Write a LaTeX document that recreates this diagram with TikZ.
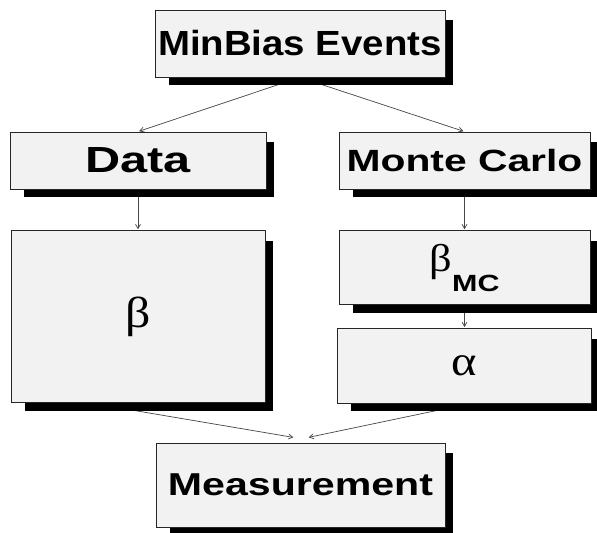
\documentclass[tikz,border=0pt]{standalone}
\usepackage{graphicx}
\usepackage{fontspec}
\setsansfont{Liberation Sans}
\newfontfamily\greekfont{Liberation Serif}
\usetikzlibrary{arrows,positioning,backgrounds}
\definecolor{boxgray}{RGB}{242,242,242}
\definecolor{linegray}{RGB}{70,70,70}
\newcommand{\widetext}[2]{\scalebox{#1}[1]{#2}}
\newcommand{\fsize}[1]{\fontsize{#1}{1.2\dimexpr#1pt\relax}\selectfont}
\newcommand{\greek}[2]{{\greekfont\mdseries\fsize{#1}#2}}

\begin{document}
\begin{tikzpicture}[-,>=angle 60,node distance=1.23cm,
                    main node/.style={rectangle,draw=black!85,line width=0.7pt,fill=boxgray,
                                      inner sep=0pt,font=\sffamily\bfseries},
                    flow/.style={->,draw=linegray,line width=0.6pt,shorten >=1pt}]
  \useasboundingbox (0,0) rectangle (17.91,15.96);
  %top%
  \node[main node,minimum width=8.7cm,minimum height=2.01cm] (minbias) at (9.0,14.655)
    {\widetext{1.1}{\fsize{29.8}MinBias Events}};
  %left branch%
  \node[main node,minimum width=7.68cm,minimum height=1.71cm] (data) at (4.14,11.145)
    {\widetext{1.34}{\fsize{31}Data}};
  \node[main node,minimum width=7.62cm,minimum height=5.16cm] (beta) [below=of data]
    {\raisebox{-0.21cm}{\widetext{1.15}{\greek{37}{β}}}};
  %right branch%
  \node[main node,minimum width=7.53cm,minimum height=1.71cm] (mc) at (13.935,11.145)
    {\widetext{1.33}{\fsize{26.2}Monte Carlo}};
  \node[main node,minimum width=7.53cm,minimum height=2.22cm] (betamc) [below=of mc]
    {\widetext{1.15}{\greek{33}{β}}\raisebox{-0.6cm}{\widetext{1.3}{\fsize{20}MC}}};
  \node[main node,minimum width=7.62cm,minimum height=2.25cm] (alpha) [below=0.69cm of betamc]
    {\raisebox{-0.21cm}{\widetext{1.15}{\greek{36}{α}}}};
  %bottom%
  \node[main node,minimum width=8.67cm,minimum height=2.52cm] (measure) at (9.015,1.41)
    {\widetext{1.3}{\fsize{27}Measurement}};

  \begin{scope}[on background layer]
    \fill[white] (0,0) rectangle (17.91,15.96);
    %arrows go under the shadows%
    \path[flow]
      (minbias.south) edge (data.north)
      (minbias.south) edge (mc.north)
      (data) edge (beta)
      (mc) edge (betamc)
      (betamc) edge (alpha)
      ([xshift=-1.4cm]beta.south) edge ([xshift=-0.18cm,yshift=0.15cm]measure.north)
      ([xshift=0.09cm]alpha.south) edge ([xshift=0.21cm,yshift=0.15cm]measure.north);
    \foreach \n in {minbias,data,beta,mc,betamc,alpha,measure}
      \fill[black] ([xshift=0.42cm,yshift=-0.22cm]\n.south west)
        rectangle ([xshift=0.22cm,yshift=-0.32cm]\n.north east);
  \end{scope}
\end{tikzpicture}
\end{document}
